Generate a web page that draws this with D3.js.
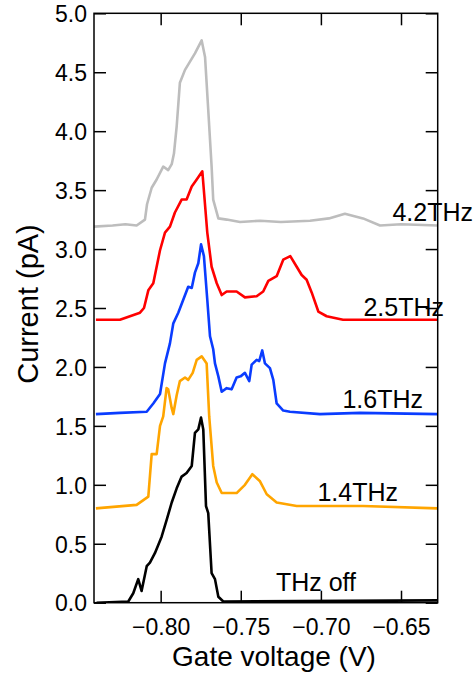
<!DOCTYPE html>
<html><head><meta charset="utf-8">
<script src="https://cdn.jsdelivr.net/npm/d3@7"></script>
<style>html,body{margin:0;padding:0;background:#fff}svg{display:block}</style>
</head><body>
<script>
const xTicks = [-0.80, -0.75, -0.70, -0.65];
const yTicks = [0, 0.5, 1, 1.5, 2, 2.5, 3, 3.5, 4, 4.5, 5];
const xDomain = [-0.8416, -0.6271];
const yDomain = [0, 5];

const grayV = [-0.8416,-0.830,-0.822,-0.815,-0.8098,-0.8085,-0.8056,-0.8025,-0.7984,-0.7953,-0.7931,-0.7917,-0.7900,-0.7880,-0.7848,-0.7817,-0.7786,-0.7744,-0.7723,-0.7703,-0.7682,-0.7672,-0.7640,-0.7588,-0.7505,-0.738,-0.725,-0.7068,-0.695,-0.685,-0.6737,-0.6631,-0.650,-0.6271];
const grayI = [3.19,3.20,3.21,3.20,3.25,3.38,3.52,3.59,3.70,3.67,3.72,3.81,4.04,4.41,4.52,4.59,4.66,4.77,4.63,4.18,3.70,3.42,3.26,3.25,3.23,3.24,3.23,3.24,3.26,3.30,3.26,3.20,3.21,3.20];

const redV = [-0.8404,-0.8254,-0.8129,-0.8104,-0.8077,-0.8046,-0.8004,-0.7973,-0.7942,-0.7911,-0.7869,-0.7838,-0.7806,-0.7775,-0.7740,-0.7709,-0.7682,-0.7650,-0.7619,-0.7588,-0.7526,-0.7474,-0.7401,-0.7360,-0.7328,-0.7276,-0.7235,-0.7191,-0.7151,-0.7120,-0.7089,-0.7057,-0.7016,-0.6964,-0.6862,-0.6271];
const redI = [2.40,2.40,2.46,2.50,2.65,2.71,2.99,3.14,3.19,3.31,3.42,3.42,3.53,3.59,3.66,3.14,2.85,2.71,2.61,2.64,2.64,2.59,2.60,2.64,2.73,2.77,2.91,2.94,2.85,2.78,2.74,2.63,2.47,2.43,2.40,2.40];

const blueV = [-0.8404,-0.8254,-0.8087,-0.8046,-0.8004,-0.7973,-0.7942,-0.7921,-0.7890,-0.7859,-0.7828,-0.7806,-0.7786,-0.7765,-0.7748,-0.7730,-0.7709,-0.7692,-0.7672,-0.7661,-0.7640,-0.7619,-0.7588,-0.7557,-0.7526,-0.7501,-0.7474,-0.7447,-0.7432,-0.7401,-0.7385,-0.7366,-0.7349,-0.7318,-0.7297,-0.7276,-0.7235,-0.7193,-0.7006,-0.6756,-0.6271];
const blueI = [1.60,1.61,1.62,1.69,1.77,2.03,2.20,2.37,2.46,2.57,2.68,2.67,2.80,2.88,3.04,2.94,2.57,2.26,2.15,2.03,1.92,1.79,1.82,1.81,1.91,1.92,1.95,1.88,2.02,2.06,2.05,2.14,2.03,1.99,1.89,1.69,1.63,1.62,1.60,1.61,1.60];

const orangeV = [-0.8404,-0.8150,-0.8077,-0.8056,-0.8025,-0.8004,-0.7984,-0.7963,-0.7953,-0.7931,-0.7921,-0.7900,-0.7880,-0.7848,-0.7828,-0.7800,-0.7775,-0.7744,-0.7713,-0.7697,-0.7672,-0.7650,-0.7619,-0.7526,-0.7474,-0.7428,-0.7380,-0.7338,-0.7276,-0.7151,-0.6737,-0.6271];
const orangeI = [0.80,0.83,0.90,1.26,1.26,1.50,1.58,1.82,1.81,1.65,1.60,1.76,1.88,1.91,1.89,1.95,2.06,2.09,2.03,1.58,1.16,1.02,0.93,0.93,1.00,1.09,1.03,0.92,0.85,0.82,0.82,0.80];

const blackV = [-0.8400,-0.8202,-0.8171,-0.8140,-0.8119,-0.8087,-0.8067,-0.8036,-0.7994,-0.7963,-0.7931,-0.7900,-0.7869,-0.7838,-0.7806,-0.7786,-0.7765,-0.7748,-0.7734,-0.7717,-0.7703,-0.7682,-0.7661,-0.7640,-0.7609,-0.6271];
const blackI = [0.00,0.01,0.08,0.20,0.10,0.31,0.34,0.42,0.56,0.70,0.85,0.97,1.07,1.10,1.16,1.44,1.47,1.57,1.47,0.82,0.76,0.25,0.20,0.05,0.01,0.02];

const seriesNames = ["4.2THz","2.5THz","1.6THz","1.4THz","THz off"];
const seriesColors = ["#bdbdbd","#ff0000","#0a3cff","#ffa500","#000000"];
const seriesV = [grayV, redV, blueV, orangeV, blackV];
const seriesI = [grayI, redI, blueI, orangeI, blackI];

const W = 476, H = 673;
const L = 94, R = 437.7, T = 13.3, B = 602.7;
const svg = d3.select("body").append("svg").attr("width", W).attr("height", H);
const x = d3.scaleLinear().domain(xDomain).range([L, R]);
const y = d3.scaleLinear().domain(yDomain).range([B, T]);
const font = "'Liberation Sans', Arial, Helvetica, sans-serif";

svg.append("defs").append("clipPath").attr("id","clip")
  .append("rect").attr("x",L).attr("y",T-5).attr("width",R-L).attr("height",B-T+5);

const line = d3.line().x(d=>x(d[0])).y(d=>y(d[1]));
const g = svg.append("g").attr("clip-path","url(#clip)");
seriesV.forEach((vs,i)=>{
  const pts = vs.map((v,j)=>[v, seriesI[i][j]]);
  g.append("path").attr("d", line(pts)).attr("fill","none")
   .attr("stroke", seriesColors[i]).attr("stroke-width", 2.6).attr("stroke-linejoin","round");
});

// axes
const tl = 12;
const axB = svg.append("g").attr("transform",`translate(0,${B})`)
  .call(d3.axisBottom(x).tickValues(xTicks).tickSizeInner(-tl).tickSizeOuter(0).tickPadding(16)
    .tickFormat(d=>d3.format(".2f")(d).replace("-","\u2212")));
const axT = svg.append("g").attr("transform",`translate(0,${T})`)
  .call(d3.axisTop(x).tickValues(xTicks).tickSizeInner(-tl).tickSizeOuter(0).tickFormat(""));
const axL = svg.append("g").attr("transform",`translate(${L},0)`)
  .call(d3.axisLeft(y).tickValues(yTicks).tickSizeInner(-tl).tickSizeOuter(0).tickPadding(7)
    .tickFormat(d3.format(".1f")));
const axR = svg.append("g").attr("transform",`translate(${R},0)`)
  .call(d3.axisRight(y).tickValues(yTicks).tickSizeInner(-tl).tickSizeOuter(0).tickFormat(""));
[axB,axT,axL,axR].forEach(a=>{
  a.select(".domain").remove();
  a.selectAll("line").attr("stroke","#000").attr("stroke-width",1.5);
  a.selectAll("text").attr("font-family",font).attr("font-size",23).attr("fill","#000");
});
axL.selectAll("text").attr("dy","0.36em");
svg.append("rect").attr("x",L).attr("y",T).attr("width",R-L).attr("height",B-T)
  .attr("fill","none").attr("stroke","#000").attr("stroke-width",1.5);

// titles
svg.append("text").attr("x",274).attr("y",666).attr("text-anchor","middle")
  .attr("font-family",font).attr("font-size",28).text("Gate voltage (V)");
svg.append("text").attr("transform","translate(38,304) rotate(-90)").attr("text-anchor","middle")
  .attr("font-family",font).attr("font-size",29).text("Current (pA)");

// series labels
const labelPos = [[473,221],[444,316],[423,408],[398,501],[356,591]];
seriesNames.forEach((n,i)=>{
  svg.append("text").attr("x",labelPos[i][0]).attr("y",labelPos[i][1]).attr("text-anchor","end")
    .attr("font-family",font).attr("font-size",25).attr("fill","#000").text(n);
});
</script>
</body></html>
